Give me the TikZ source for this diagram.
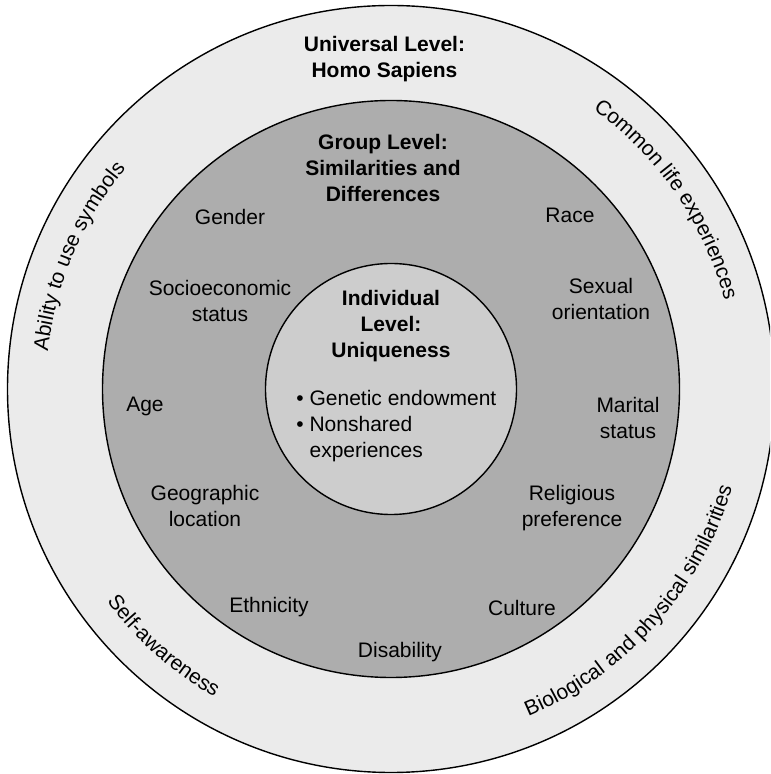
\documentclass[tikz,border=0pt]{standalone}
\usepackage{fontspec}
\setmainfont{Liberation Sans}
\usepackage{xcolor}
\usepackage{tikz}
\usetikzlibrary{
	decorations.text
}
\definecolor{OuterGray}{RGB}{235,235,235}
\definecolor{MiddleGray}{RGB}{173,173,173}
\definecolor{InnerGray}{RGB}{205,205,205}
\newcommand{\ringfont}{\fontsize{10.5}{13}\selectfont}

\begin{document}
\begin{tikzpicture}[x=0.5pt, y=0.5pt, font=\ringfont,
		every node/.style={inner sep=0pt, align=center},
		lvl/.style={font=\ringfont\bfseries, anchor=base},
		item/.style={anchor=base},
		ring/.style={line width=0.7pt, draw=black}]
		\clip (-391,-385) rectangle (379,389);
		\coordinate (O) at (0,0);
		% 三层同心圆
		\draw[ring, fill=OuterGray] (O) circle[radius=383.5];
		\draw[ring, fill=MiddleGray] (O) circle[radius=288.5];
		\draw[ring, fill=InnerGray] (O) circle[radius=125.5];
		% 各层标题 (base = 最后一行)
		\node[lvl] (U) at (-6.5,311) {Universal Level:\\Homo Sapiens};
		\node[lvl] (G) at (-8,187) {Group Level:\\Similarities and\\Differences};
		\node[lvl] (I) at (0,31) {Individual\\Level:\\Uniqueness};
		\node[item, anchor=base west, align=left] (L) at (-95,-69)
			{\textbullet\ Genetic endowment\\\textbullet\ Nonshared\\\phantom{\textbullet\ }experiences};
		% 中间层
		\foreach \n/\x/\y/\t in {Gen/-161/164/Gender, Soc/-171/67/{Socioeconomic\\status},
				Age/-246/-23/Age, Geo/-186/-138/{Geographic\\location},
				Eth/-122/-223/Ethnicity, Dis/9/-268/Disability, Cul/131/-226/Culture,
				Rel/181/-138/{Religious\\preference}, Mar/237/-50/{Marital\\status},
				Sex/210/69/{Sexual\\orientation}, Rac/179/166/Race}
		\node[item] (\n) at (\x,\y) {\t};
		% 外层沿圆弧的文字
		\foreach \a/\b/\r/\t in {190/124/345/Ability to use symbols,
				70/-1/345/Common life experiences,
				200/257/355/Self-awareness,
				-79.7/-3.7/355/Biological and physical similarities}
		\path[decorate, decoration={text along path, text align=center,
				text={|\ringfont|\t}}]
			(O) ++(\a:\r) arc[start angle=\a, end angle=\b, radius=\r];
	\end{tikzpicture}
\end{document}
